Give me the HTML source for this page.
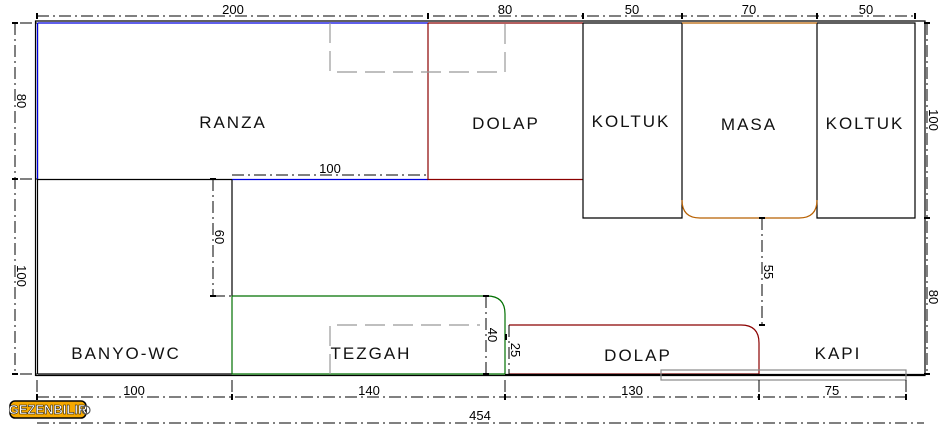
<!DOCTYPE html>
<html><head><meta charset="utf-8"><style>
html,body{margin:0;padding:0;background:#fff;}
svg{display:block}
text{font-family:"Liberation Sans",sans-serif;fill:#000}
.lbl{font-size:17px;letter-spacing:2px;fill:#111}
.dim{font-size:13px}
</style></head><body>
<svg width="950" height="430" viewBox="0 0 950 430" xmlns="http://www.w3.org/2000/svg">
<g fill="none" stroke-width="1.2">
<path d="M35.5 376 V21 H925 V375.5 H35.5" stroke="#000"/>
<path d="M37.5 374 V23" stroke="#000"/>
<path d="M37.5 23 H428" stroke="#0000e0"/>
<path d="M37.5 374 H232" stroke="#000"/>
<path d="M37.5 179.5 H232" stroke="#000"/>
<path d="M232 179.5 H428" stroke="#0000e0"/>
<path d="M37.5 23 V179" stroke="#0000e0"/>
<path d="M428 23 H583 M428 23 V179.5 H583" stroke="#8b0000"/>
<path d="M583 23 V218 H682 V23" stroke="#000"/>
<path d="M817 23 V218 H915 V23 H817" stroke="#000"/>
<path d="M682 23 H817" stroke="#b86000"/>
<path d="M682 200 Q682 218 700 218 H799 Q817 218 817 200" stroke="#b86000"/>
<path d="M583 23 H682" stroke="#000"/>
<path d="M232 179.5 V296" stroke="#000"/>
<path d="M232 296 V374 H505 V314 Q505 296 487 296 H232" stroke="#007000"/>
<path d="M509 374 H759 V343 Q759 325 741 325 H509" stroke="#8b0000"/>
<path d="M505 374.5 H925" stroke="#000"/>
<rect x="661" y="370" width="245" height="10" stroke="#888"/>
<path d="M330 23 V72 H505 V23" stroke="#999" stroke-dasharray="20 8"/>
<path d="M330 374 V325 H480" stroke="#999" stroke-dasharray="20 8"/>
</g>
<g fill="none" stroke="#000" stroke-width="1" stroke-dasharray="12 4 2 4">
<path d="M37 16 H915"/>
<path d="M37 397 H906"/>
<path d="M37 423 H924"/>
<path d="M15 23 V374"/>
<path d="M927 23 V374"/>
<path d="M213 179 V296"/>
<path d="M232 175 H428"/>
<path d="M762 218 V325"/>
<path d="M486 296 V374"/>
<path d="M509 325 V374"/>
<path d="M37 380 V400 M232 380 V400 M505 380 V400 M759 380 V400 M906 380 V400"/>
<path d="M20 179 H37 M20 23 H37 M213 296 H232 M20 374 H37"/>
</g>
<g stroke="#000" stroke-width="2">
<path d="M428 13 V19 M583 13 V19 M682 13 V19 M817 13 V19 M915 13 V19 M37 13 V19"/>
<path d="M232 394 V400 M505 394 V400 M759 394 V400 M906 394 V400 M37 394 V400"/>
<path d="M12 179 H18 M12 23 H18 M12 374 H18 M924 218 H930 M924 23 H930 M924 374 H930"/>
<path d="M210 179 H216 M210 296 H216 M759 218 H765 M759 325 H765 M483 296 H489 M483 374 H489 M506 334 V340"/>
</g>
<text class="lbl" x="233" y="128" text-anchor="middle">RANZA</text>
<text class="lbl" x="506" y="129" text-anchor="middle">DOLAP</text>
<text class="lbl" x="631" y="127" text-anchor="middle">KOLTUK</text>
<text class="lbl" x="749" y="130" text-anchor="middle">MASA</text>
<text class="lbl" x="865" y="129" text-anchor="middle">KOLTUK</text>
<text class="lbl" x="126" y="359" text-anchor="middle">BANYO-WC</text>
<text class="lbl" x="371" y="359" text-anchor="middle">TEZGAH</text>
<text class="lbl" x="638" y="361" text-anchor="middle">DOLAP</text>
<text class="lbl" x="838" y="359" text-anchor="middle">KAPI</text>
<g class="dim" text-anchor="middle">
<text x="233" y="14">200</text>
<text x="505" y="14">80</text>
<text x="632" y="14">50</text>
<text x="749" y="14">70</text>
<text x="866" y="14">50</text>
<text x="330" y="173">100</text>
<text x="134" y="395">100</text>
<text x="369" y="395">140</text>
<text x="632" y="395">130</text>
<text x="832" y="395">75</text>
<text x="480" y="420">454</text>
<text transform="translate(17 101) rotate(90)">80</text>
<text transform="translate(17 276) rotate(90)">100</text>
<text transform="translate(215 237) rotate(90)">60</text>
<text transform="translate(764 272) rotate(90)">55</text>
<text transform="translate(488 335) rotate(90)">40</text>
<text transform="translate(511 350) rotate(90)">25</text>
<text transform="translate(929 120) rotate(90)">100</text>
<text transform="translate(929 297) rotate(90)">80</text>
</g>
<rect x="10" y="401" width="76" height="17" rx="5" fill="#f5a800" stroke="#000" stroke-width="1.5"/>
<text x="48" y="414" text-anchor="middle" style="font-size:13px;font-weight:bold;fill:#fff;stroke:#000;stroke-width:0.5">GEZENBILIR</text>
<circle cx="86" cy="410" r="4" fill="none" stroke="#555" stroke-width="1.2"/>
</svg>
</body></html>
